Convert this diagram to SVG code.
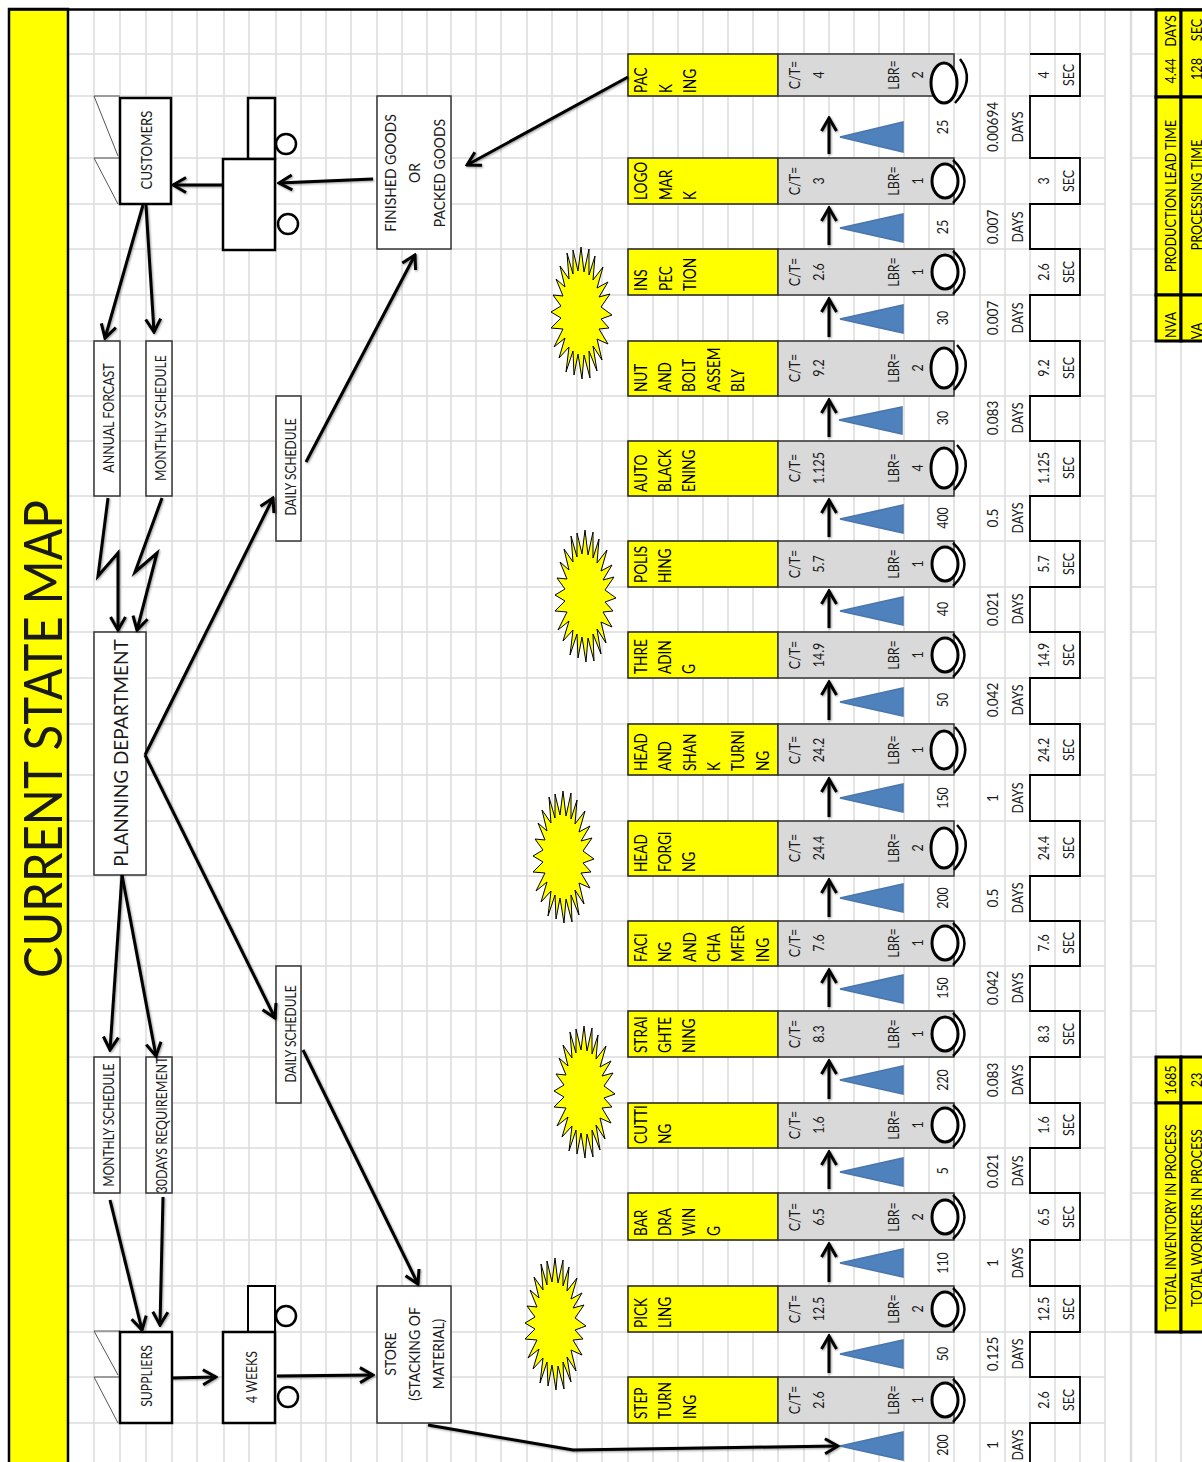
<svg xmlns="http://www.w3.org/2000/svg" width="1202" height="1462" viewBox="0 0 1202 1462">
<style>
text{font-family:Lato,"Liberation Sans",sans-serif;fill:#1a1a1a;dominant-baseline:central;text-anchor:middle}
.s{font-size:15px}.p{font-size:17px;text-anchor:start;fill:#000}.v{font-size:15px}.b{fill:#fff;stroke:#333;stroke-width:1.5}.k{fill:#fff;stroke:#000;stroke-width:2.5}.y{fill:#ff0;stroke:#222;stroke-width:1.5}.g{fill:#d9d9d9;stroke:#333;stroke-width:1.5}.o{fill:#fff;stroke:#000;stroke-width:3}.a{fill:none;stroke:#000;stroke-width:1.8}.f{fill:none;stroke:#555;stroke-width:1}.t{fill:#4f81bd;stroke:#4a76ab;stroke-width:1.5}.w{fill:none;stroke:#000;stroke-width:2.5}.c{fill:none;stroke:#000;stroke-width:3}.m{fill:#ff0;stroke:#000;stroke-width:3}.l{font-size:15.5px;fill:#000}.sun{fill:#ff0;stroke:#000;stroke-width:1}
</style>
<defs>
<marker id="ah" markerUnits="userSpaceOnUse" viewBox="-16 -11 18 22" refX="0" refY="0" markerWidth="18" markerHeight="22" orient="auto"><path d="M-13,-7.500 L0,0 L-13,7.500" fill="none" stroke="#000" stroke-width="3"/></marker>
<filter id="sh" x="-5%" y="-5%" width="110%" height="110%"><feDropShadow dx="1" dy="1" stdDeviation="1" flood-opacity=".4"/></filter>
<polygon id="st" points="31,2 20,6 28,15 18,16 27,31 16,26 21,47 12,33 16,58 8,38 9,65 3,42 1,66 -3,41 -7,62 -8,38 -15,59 -12,34 -22,45 -16,25 -27,34 -18,16 -30,15 -20,5 -30,-1 -20,-7 -28,-18 -18,-17 -25,-34 -16,-26 -21,-47 -12,-34 -14,-60 -8,-39 -8,-63 -3,-42 0,-66 3,-41 8,-64 8,-38 14,-57 12,-33 22,-46 16,-25 27,-31 18,-16 29,-19 20,-6"/>
</defs>
<rect width="1202" height="1462" fill="#fff"/>
<g id="grid" fill="none" stroke="#dcdcdc" stroke-width="1.5">
<path d="M94 10V1462M120 10V1462M146 10V1462M172 10V1462M197 10V1462M224 10V1462M249 10V1462M276 10V1462M301 10V1462M326 10V1462M351 10V1462M377 10V1462M402 10V1462M427 10V1462M451 10V1462M476 10V1462M501 10V1462M527 10V1462M552 10V1462M577 10V1462M602 10V1462M628 10V1462M653 10V1462M678 10V1462M703 10V1462M728 10V1462M753 10V1462M778 10V1462M804 10V1462M829 10V1462M854 10V1462M879 10V1462M904 10V1462M929 10V1462M954 10V1462M980 10V1462M1005 10V1462M1030 10V1462M1055 10V1462M1080 10V1462M1105 10V1462M1131 10V1462M1156 10V1462M1181 10V1462"/>
<path d="M68 54H1105M1131 54H1156M68 96H1105M1131 96H1156M68 158H1105M1131 158H1156M68 204H1105M1131 204H1156M68 249H1105M1131 249H1156M68 295H1105M1131 295H1156M68 341H1105M1131 341H1156M68 396H1105M1131 396H1156M68 441H1105M1131 441H1156M68 496H1105M1131 496H1156M68 541H1105M1131 541H1156M68 587H1105M1131 587H1156M68 632H1105M1131 632H1156M68 678H1105M1131 678H1156M68 724H1105M1131 724H1156M68 775H1105M1131 775H1156M68 821H1105M1131 821H1156M68 876H1105M1131 876H1156M68 921H1105M1131 921H1156M68 966H1105M1131 966H1156M68 1011H1105M1131 1011H1156M68 1057H1105M1131 1057H1156M68 1103H1105M1131 1103H1156M68 1148H1105M1131 1148H1156M68 1193H1105M1131 1193H1156M68 1240H1156M68 1286H1156M68 1332H1156M68 1377H1105M68 1423H1105"/>
<path d="M1131 10V1462" stroke-width="2.5"/>
</g>
<g id="title">
<rect x="9" y="9" width="59" height="1460" fill="#ff0" stroke="#000" stroke-width="2.5"/>
<path d="M9 9.500H1202" stroke="#000" stroke-width="2.5"/>
<text transform="translate(41,739) rotate(-90)" font-size="53" textLength="478" lengthAdjust="spacingAndGlyphs" fill="#000">CURRENT STATE MAP</text>
</g>
<g id="customers"><path class="f" d="M120 96H94L118 156M120 158H94L118 204"/><rect class="k" x="120" y="98" width="51" height="106"/><text class="s" transform="translate(146,150) rotate(-90) scale(.88,1)">CUSTOMERS</text></g>
<g id="truck-out"><rect class="k" x="248" y="98" width="27" height="61"/><rect class="k" x="223" y="159" width="52" height="91"/><circle class="k" cx="286" cy="144" r="10"/><circle class="k" cx="288" cy="224" r="10"/></g>
<g id="finished-goods"><rect class="b" x="377" y="96" width="74" height="153"/><text class="s" transform="translate(390,173) rotate(-90) scale(.93,1)">FINISHED GOODS</text><text class="s" transform="translate(414,173) rotate(-90) scale(.93,1)">OR</text><text class="s" transform="translate(439,173) rotate(-90) scale(.93,1)">PACKED GOODS</text></g>
<g id="annual-forcast"><rect class="b" x="94" y="341" width="26" height="155"/><text class="s" transform="translate(108,418) rotate(-90) scale(.83,1)">ANNUAL FORCAST</text></g>
<g id="monthly-schedule-top"><rect class="b" x="146" y="341" width="26" height="155"/><text class="s" transform="translate(160,418) rotate(-90) scale(.82,1)">MONTHLY SCHEDULE</text></g>
<g id="planning"><rect class="b" x="94" y="632" width="52" height="243"/><text transform="translate(120,753) rotate(-90)" font-size="19">PLANNING DEPARTMENT</text></g>
<g id="daily-top"><rect class="b" x="276" y="396" width="25" height="145"/><text class="s" transform="translate(290,467) rotate(-90) scale(.8,1)">DAILY SCHEDULE</text></g>
<g id="daily-bottom"><rect class="b" x="276" y="966" width="25" height="137"/><text class="s" transform="translate(290,1034) rotate(-90) scale(.8,1)">DAILY SCHEDULE</text></g>
<g id="monthly-schedule-bottom"><rect class="b" x="94" y="1057" width="26" height="136"/><text class="s" transform="translate(108,1125) rotate(-90) scale(.8,1)">MONTHLY SCHEDULE</text></g>
<g id="days-requirement"><rect class="b" x="146" y="1057" width="26" height="136"/><text class="s" transform="translate(161,1125) rotate(-90)" textLength="137" lengthAdjust="spacingAndGlyphs">30DAYS REQUIREMENT</text></g>
<g id="suppliers"><path class="f" d="M120 1331H94L118 1375M120 1377H94L118 1423"/><rect class="k" x="120" y="1332" width="52" height="91"/><text class="s" transform="translate(146,1376) rotate(-90) scale(.82,1)">SUPPLIERS</text></g>
<g id="truck-in"><rect class="k" style="stroke-width:2" x="248" y="1286" width="27" height="46"/><rect class="k" x="223" y="1332" width="52" height="91"/><circle class="k" cx="286" cy="1316" r="10"/><circle class="k" cx="288" cy="1397" r="10"/><text class="s" transform="translate(251,1377) rotate(-90) scale(.82,1)">4 WEEKS</text></g>
<g id="store"><rect class="b" x="377" y="1286" width="74" height="137"/><text class="s" transform="translate(390,1354) rotate(-90) scale(.93,1)">STORE</text><text class="s" transform="translate(414,1354) rotate(-90) scale(.93,1)">(STACKING OF</text><text class="s" transform="translate(438,1354) rotate(-90) scale(.93,1)">MATERIAL)</text></g>
<g id="bursts" class="sun"><use href="#st" x="581" y="313"/><use href="#st" x="585" y="596"/><use href="#st" x="563" y="857"/><use href="#st" x="584" y="1092"/><use href="#st" x="555" y="1324"/></g>
<g id="timeline"><path class="a" d="M1030 54H1080V96H1030V158H1080V204H1030V249H1080V295H1030V341H1080V396H1030V441H1080V496H1030V541H1080V587H1030V632H1080V678H1030V724H1080V775H1030V821H1080V876H1030V921H1080V966H1030V1011H1080V1057H1030V1103H1080V1148H1030V1193H1080V1240H1030V1286H1080V1332H1030V1377H1080V1423H1030V1462"/></g>

<g id="p-pack"><rect class="y" x="628" y="54" width="150" height="42"/><rect class="g" x="778" y="54" width="176" height="42"/><text class="p" transform="translate(640,93) rotate(-90) scale(.8,1)">PAC</text><text class="p" transform="translate(665,93) rotate(-90) scale(.8,1)">K</text><text class="p" transform="translate(689,93) rotate(-90) scale(.8,1)">ING</text><text class="v" transform="translate(794,75) rotate(-90) scale(.83,1)">C/T=</text><text class="v" transform="translate(818,75) rotate(-90) scale(.83,1)">4</text><text class="v" transform="translate(893,75) rotate(-90) scale(.83,1)">LBR=</text><text class="v" transform="translate(917,75) rotate(-90) scale(.83,1)">2</text><ellipse class="o" cx="944" cy="83" rx="13" ry="20"/><path class="w" d="M960 59Q976 80 955 103"/><text class="v" transform="translate(1043,75) rotate(-90) scale(.83,1)">4</text><text class="v" transform="translate(1068,75) rotate(-90) scale(.83,1)">SEC</text></g>
<g id="p-logo"><rect class="y" x="628" y="158" width="150" height="46"/><rect class="g" x="778" y="158" width="176" height="46"/><text class="p" transform="translate(640,200) rotate(-90) scale(.8,1)">LOGO</text><text class="p" transform="translate(665,200) rotate(-90) scale(.8,1)">MAR</text><text class="p" transform="translate(689,200) rotate(-90) scale(.8,1)">K</text><text class="v" transform="translate(794,181) rotate(-90) scale(.83,1)">C/T=</text><text class="v" transform="translate(818,181) rotate(-90) scale(.83,1)">3</text><text class="v" transform="translate(893,181) rotate(-90) scale(.83,1)">LBR=</text><text class="v" transform="translate(917,181) rotate(-90) scale(.83,1)">1</text><ellipse class="o" cx="945" cy="181" rx="13" ry="17"/><path class="w" d="M953 160Q976 181 953 203"/><text class="v" transform="translate(1043,181) rotate(-90) scale(.83,1)">3</text><text class="v" transform="translate(1068,181) rotate(-90) scale(.83,1)">SEC</text></g>
<g id="p-inspection"><rect class="y" x="628" y="249" width="150" height="46"/><rect class="g" x="778" y="249" width="176" height="46"/><text class="p" transform="translate(640,291) rotate(-90) scale(.8,1)">INS</text><text class="p" transform="translate(665,291) rotate(-90) scale(.8,1)">PEC</text><text class="p" transform="translate(689,291) rotate(-90) scale(.8,1)">TION</text><text class="v" transform="translate(794,272) rotate(-90) scale(.83,1)">C/T=</text><text class="v" transform="translate(818,272) rotate(-90) scale(.83,1)">2.6</text><text class="v" transform="translate(893,272) rotate(-90) scale(.83,1)">LBR=</text><text class="v" transform="translate(917,272) rotate(-90) scale(.83,1)">1</text><ellipse class="o" cx="945" cy="272" rx="13" ry="17"/><path class="w" d="M953 251Q976 272 953 294"/><text class="v" transform="translate(1043,272) rotate(-90) scale(.83,1)">2.6</text><text class="v" transform="translate(1068,272) rotate(-90) scale(.83,1)">SEC</text></g>
<g id="p-nut"><rect class="y" x="628" y="341" width="150" height="55"/><rect class="g" x="778" y="341" width="176" height="55"/><text class="p" transform="translate(640,392) rotate(-90) scale(.8,1)">NUT</text><text class="p" transform="translate(664,392) rotate(-90) scale(.8,1)">AND</text><text class="p" transform="translate(688,392) rotate(-90) scale(.8,1)">BOLT</text><text class="p" transform="translate(713,392) rotate(-90) scale(.8,1)">ASSEM</text><text class="p" transform="translate(737,392) rotate(-90) scale(.8,1)">BLY</text><text class="v" transform="translate(794,368) rotate(-90) scale(.83,1)">C/T=</text><text class="v" transform="translate(818,368) rotate(-90) scale(.83,1)">9.2</text><text class="v" transform="translate(893,368) rotate(-90) scale(.83,1)">LBR=</text><text class="v" transform="translate(917,368) rotate(-90) scale(.83,1)">2</text><ellipse class="o" cx="944" cy="368" rx="13" ry="20"/><path class="w" d="M957 345Q976 365 954 390"/><text class="v" transform="translate(1043,368) rotate(-90) scale(.83,1)">9.2</text><text class="v" transform="translate(1068,368) rotate(-90) scale(.83,1)">SEC</text></g>
<g id="p-auto"><rect class="y" x="628" y="441" width="150" height="55"/><rect class="g" x="778" y="441" width="176" height="55"/><text class="p" transform="translate(640,492) rotate(-90) scale(.8,1)">AUTO</text><text class="p" transform="translate(664,492) rotate(-90) scale(.8,1)">BLACK</text><text class="p" transform="translate(688,492) rotate(-90) scale(.8,1)">ENING</text><text class="v" transform="translate(794,468) rotate(-90) scale(.83,1)">C/T=</text><text class="v" transform="translate(818,468) rotate(-90) scale(.83,1)">1.125</text><text class="v" transform="translate(893,468) rotate(-90) scale(.83,1)">LBR=</text><text class="v" transform="translate(917,468) rotate(-90) scale(.83,1)">4</text><ellipse class="o" cx="944" cy="468" rx="13" ry="20"/><path class="w" d="M957 445Q976 465 954 490"/><text class="v" transform="translate(1043,468) rotate(-90) scale(.83,1)">1.125</text><text class="v" transform="translate(1068,468) rotate(-90) scale(.83,1)">SEC</text></g>
<g id="p-polishing"><rect class="y" x="628" y="541" width="150" height="46"/><rect class="g" x="778" y="541" width="176" height="46"/><text class="p" transform="translate(640,583) rotate(-90) scale(.8,1)">POLIS</text><text class="p" transform="translate(664,583) rotate(-90) scale(.8,1)">HING</text><text class="v" transform="translate(794,564) rotate(-90) scale(.83,1)">C/T=</text><text class="v" transform="translate(818,564) rotate(-90) scale(.83,1)">5.7</text><text class="v" transform="translate(893,564) rotate(-90) scale(.83,1)">LBR=</text><text class="v" transform="translate(917,564) rotate(-90) scale(.83,1)">1</text><ellipse class="o" cx="945" cy="564" rx="13" ry="17"/><path class="w" d="M953 543Q976 564 953 586"/><text class="v" transform="translate(1043,564) rotate(-90) scale(.83,1)">5.7</text><text class="v" transform="translate(1068,564) rotate(-90) scale(.83,1)">SEC</text></g>
<g id="p-threading"><rect class="y" x="628" y="632" width="150" height="46"/><rect class="g" x="778" y="632" width="176" height="46"/><text class="p" transform="translate(640,674) rotate(-90) scale(.8,1)">THRE</text><text class="p" transform="translate(664,674) rotate(-90) scale(.8,1)">ADIN</text><text class="p" transform="translate(688,674) rotate(-90) scale(.8,1)">G</text><text class="v" transform="translate(794,655) rotate(-90) scale(.83,1)">C/T=</text><text class="v" transform="translate(818,655) rotate(-90) scale(.83,1)">14.9</text><text class="v" transform="translate(893,655) rotate(-90) scale(.83,1)">LBR=</text><text class="v" transform="translate(917,655) rotate(-90) scale(.83,1)">1</text><ellipse class="o" cx="945" cy="655" rx="13" ry="17"/><path class="w" d="M953 634Q976 655 953 677"/><text class="v" transform="translate(1043,655) rotate(-90) scale(.83,1)">14.9</text><text class="v" transform="translate(1068,655) rotate(-90) scale(.83,1)">SEC</text></g>
<g id="p-head-shank"><rect class="y" x="628" y="724" width="150" height="51"/><rect class="g" x="778" y="724" width="176" height="51"/><text class="p" transform="translate(640,771) rotate(-90) scale(.8,1)">HEAD</text><text class="p" transform="translate(664,771) rotate(-90) scale(.8,1)">AND</text><text class="p" transform="translate(689,771) rotate(-90) scale(.8,1)">SHAN</text><text class="p" transform="translate(713,771) rotate(-90) scale(.8,1)">K</text><text class="p" transform="translate(737,771) rotate(-90) scale(.8,1)">TURNI</text><text class="p" transform="translate(762,771) rotate(-90) scale(.8,1)">NG</text><text class="v" transform="translate(794,750) rotate(-90) scale(.83,1)">C/T=</text><text class="v" transform="translate(818,750) rotate(-90) scale(.83,1)">24.2</text><text class="v" transform="translate(893,750) rotate(-90) scale(.83,1)">LBR=</text><text class="v" transform="translate(917,750) rotate(-90) scale(.83,1)">1</text><ellipse class="o" cx="944" cy="750" rx="13" ry="19"/><path class="w" d="M955 727Q976 750 954 773"/><text class="v" transform="translate(1043,750) rotate(-90) scale(.83,1)">24.2</text><text class="v" transform="translate(1068,750) rotate(-90) scale(.83,1)">SEC</text></g>
<g id="p-head-forging"><rect class="y" x="628" y="821" width="150" height="55"/><rect class="g" x="778" y="821" width="176" height="55"/><text class="p" transform="translate(640,872) rotate(-90) scale(.8,1)">HEAD</text><text class="p" transform="translate(664,872) rotate(-90) scale(.8,1)">FORGI</text><text class="p" transform="translate(688,872) rotate(-90) scale(.8,1)">NG</text><text class="v" transform="translate(794,848) rotate(-90) scale(.83,1)">C/T=</text><text class="v" transform="translate(818,848) rotate(-90) scale(.83,1)">24.4</text><text class="v" transform="translate(893,848) rotate(-90) scale(.83,1)">LBR=</text><text class="v" transform="translate(917,848) rotate(-90) scale(.83,1)">2</text><ellipse class="o" cx="944" cy="848" rx="13" ry="20"/><path class="w" d="M957 825Q976 845 954 870"/><text class="v" transform="translate(1043,848) rotate(-90) scale(.83,1)">24.4</text><text class="v" transform="translate(1068,848) rotate(-90) scale(.83,1)">SEC</text></g>
<g id="p-facing"><rect class="y" x="628" y="921" width="150" height="45"/><rect class="g" x="778" y="921" width="176" height="45"/><text class="p" transform="translate(640,962) rotate(-90) scale(.8,1)">FACI</text><text class="p" transform="translate(664,962) rotate(-90) scale(.8,1)">NG</text><text class="p" transform="translate(689,962) rotate(-90) scale(.8,1)">AND</text><text class="p" transform="translate(713,962) rotate(-90) scale(.8,1)">CHA</text><text class="p" transform="translate(737,962) rotate(-90) scale(.8,1)">MFER</text><text class="p" transform="translate(762,962) rotate(-90) scale(.8,1)">ING</text><text class="v" transform="translate(794,943) rotate(-90) scale(.83,1)">C/T=</text><text class="v" transform="translate(818,943) rotate(-90) scale(.83,1)">7.6</text><text class="v" transform="translate(893,943) rotate(-90) scale(.83,1)">LBR=</text><text class="v" transform="translate(917,943) rotate(-90) scale(.83,1)">1</text><ellipse class="o" cx="945" cy="943" rx="13" ry="17"/><path class="w" d="M953 923Q976 943 953 965"/><text class="v" transform="translate(1043,943) rotate(-90) scale(.83,1)">7.6</text><text class="v" transform="translate(1068,943) rotate(-90) scale(.83,1)">SEC</text></g>
<g id="p-straightening"><rect class="y" x="628" y="1011" width="150" height="46"/><rect class="g" x="778" y="1011" width="176" height="46"/><text class="p" transform="translate(640,1053) rotate(-90) scale(.8,1)">STRAI</text><text class="p" transform="translate(664,1053) rotate(-90) scale(.8,1)">GHTE</text><text class="p" transform="translate(688,1053) rotate(-90) scale(.8,1)">NING</text><text class="v" transform="translate(794,1034) rotate(-90) scale(.83,1)">C/T=</text><text class="v" transform="translate(818,1034) rotate(-90) scale(.83,1)">8.3</text><text class="v" transform="translate(893,1034) rotate(-90) scale(.83,1)">LBR=</text><text class="v" transform="translate(917,1034) rotate(-90) scale(.83,1)">1</text><ellipse class="o" cx="945" cy="1034" rx="13" ry="17"/><path class="w" d="M953 1013Q976 1034 953 1056"/><text class="v" transform="translate(1043,1034) rotate(-90) scale(.83,1)">8.3</text><text class="v" transform="translate(1068,1034) rotate(-90) scale(.83,1)">SEC</text></g>
<g id="p-cutting"><rect class="y" x="628" y="1103" width="150" height="45"/><rect class="g" x="778" y="1103" width="176" height="45"/><text class="p" transform="translate(640,1144) rotate(-90) scale(.8,1)">CUTTI</text><text class="p" transform="translate(664,1144) rotate(-90) scale(.8,1)">NG</text><text class="v" transform="translate(794,1125) rotate(-90) scale(.83,1)">C/T=</text><text class="v" transform="translate(818,1125) rotate(-90) scale(.83,1)">1.6</text><text class="v" transform="translate(893,1125) rotate(-90) scale(.83,1)">LBR=</text><text class="v" transform="translate(917,1125) rotate(-90) scale(.83,1)">1</text><ellipse class="o" cx="945" cy="1125" rx="13" ry="17"/><path class="w" d="M953 1105Q976 1125 953 1147"/><text class="v" transform="translate(1043,1125) rotate(-90) scale(.83,1)">1.6</text><text class="v" transform="translate(1068,1125) rotate(-90) scale(.83,1)">SEC</text></g>
<g id="p-bar-drawing"><rect class="y" x="628" y="1193" width="150" height="47"/><rect class="g" x="778" y="1193" width="176" height="47"/><text class="p" transform="translate(640,1236) rotate(-90) scale(.8,1)">BAR</text><text class="p" transform="translate(664,1236) rotate(-90) scale(.8,1)">DRA</text><text class="p" transform="translate(688,1236) rotate(-90) scale(.8,1)">WIN</text><text class="p" transform="translate(713,1236) rotate(-90) scale(.8,1)">G</text><text class="v" transform="translate(794,1217) rotate(-90) scale(.83,1)">C/T=</text><text class="v" transform="translate(818,1217) rotate(-90) scale(.83,1)">6.5</text><text class="v" transform="translate(893,1217) rotate(-90) scale(.83,1)">LBR=</text><text class="v" transform="translate(917,1217) rotate(-90) scale(.83,1)">2</text><ellipse class="o" cx="945" cy="1217" rx="13" ry="17"/><path class="w" d="M953 1195Q976 1217 953 1239"/><text class="v" transform="translate(1043,1217) rotate(-90) scale(.83,1)">6.5</text><text class="v" transform="translate(1068,1217) rotate(-90) scale(.83,1)">SEC</text></g>
<g id="p-pickling"><rect class="y" x="628" y="1286" width="150" height="46"/><rect class="g" x="778" y="1286" width="176" height="46"/><text class="p" transform="translate(640,1328) rotate(-90) scale(.8,1)">PICK</text><text class="p" transform="translate(664,1328) rotate(-90) scale(.8,1)">LING</text><text class="v" transform="translate(794,1309) rotate(-90) scale(.83,1)">C/T=</text><text class="v" transform="translate(818,1309) rotate(-90) scale(.83,1)">12.5</text><text class="v" transform="translate(893,1309) rotate(-90) scale(.83,1)">LBR=</text><text class="v" transform="translate(917,1309) rotate(-90) scale(.83,1)">2</text><ellipse class="o" cx="945" cy="1309" rx="13" ry="17"/><path class="w" d="M953 1288Q976 1309 953 1331"/><text class="v" transform="translate(1043,1309) rotate(-90) scale(.83,1)">12.5</text><text class="v" transform="translate(1068,1309) rotate(-90) scale(.83,1)">SEC</text></g>
<g id="p-step-turning"><rect class="y" x="628" y="1377" width="150" height="46"/><rect class="g" x="778" y="1377" width="176" height="46"/><text class="p" transform="translate(640,1419) rotate(-90) scale(.8,1)">STEP</text><text class="p" transform="translate(664,1419) rotate(-90) scale(.8,1)">TURN</text><text class="p" transform="translate(689,1419) rotate(-90) scale(.8,1)">ING</text><text class="v" transform="translate(794,1400) rotate(-90) scale(.83,1)">C/T=</text><text class="v" transform="translate(818,1400) rotate(-90) scale(.83,1)">2.6</text><text class="v" transform="translate(893,1400) rotate(-90) scale(.83,1)">LBR=</text><text class="v" transform="translate(917,1400) rotate(-90) scale(.83,1)">1</text><ellipse class="o" cx="945" cy="1400" rx="13" ry="17"/><path class="w" d="M953 1379Q976 1400 953 1422"/><text class="v" transform="translate(1043,1400) rotate(-90) scale(.83,1)">2.6</text><text class="v" transform="translate(1068,1400) rotate(-90) scale(.83,1)">SEC</text></g>

<g id="inventory">
<polygon class="t" points="840,137 903,122 903,152"/><text class="v" transform="translate(942,127) rotate(-90) scale(.83,1)">25</text><text class="v" transform="translate(992,127) rotate(-90) scale(.9,1)">0.00694</text><text class="v" transform="translate(1017,127) rotate(-90) scale(.83,1)">DAYS</text>
<polygon class="t" points="840,228 903,214 903,242"/><text class="v" transform="translate(942,227) rotate(-90) scale(.83,1)">25</text><text class="v" transform="translate(992,227) rotate(-90) scale(.9,1)">0.007</text><text class="v" transform="translate(1017,227) rotate(-90) scale(.83,1)">DAYS</text>
<polygon class="t" points="840,319 903,305 903,333"/><text class="v" transform="translate(942,318) rotate(-90) scale(.83,1)">30</text><text class="v" transform="translate(992,318) rotate(-90) scale(.9,1)">0.007</text><text class="v" transform="translate(1017,318) rotate(-90) scale(.83,1)">DAYS</text>
<polygon class="t" points="839,420 902,407 902,434"/><text class="v" transform="translate(942,418) rotate(-90) scale(.83,1)">30</text><text class="v" transform="translate(992,418) rotate(-90) scale(.9,1)">0.083</text><text class="v" transform="translate(1017,418) rotate(-90) scale(.83,1)">DAYS</text>
<polygon class="t" points="840,519 903,505 903,533"/><text class="v" transform="translate(942,518) rotate(-90) scale(.83,1)">400</text><text class="v" transform="translate(992,518) rotate(-90) scale(.9,1)">0.5</text><text class="v" transform="translate(1017,518) rotate(-90) scale(.83,1)">DAYS</text>
<polygon class="t" points="840,611 903,597 903,625"/><text class="v" transform="translate(942,609) rotate(-90) scale(.83,1)">40</text><text class="v" transform="translate(992,609) rotate(-90) scale(.9,1)">0.021</text><text class="v" transform="translate(1017,609) rotate(-90) scale(.83,1)">DAYS</text>
<polygon class="t" points="840,702 903,688 903,716"/><text class="v" transform="translate(942,700) rotate(-90) scale(.83,1)">50</text><text class="v" transform="translate(992,700) rotate(-90) scale(.9,1)">0.042</text><text class="v" transform="translate(1017,700) rotate(-90) scale(.83,1)">DAYS</text>
<polygon class="t" points="840,798 903,784 903,812"/><text class="v" transform="translate(942,798) rotate(-90) scale(.83,1)">150</text><text class="v" transform="translate(992,798) rotate(-90) scale(.9,1)">1</text><text class="v" transform="translate(1017,798) rotate(-90) scale(.83,1)">DAYS</text>
<polygon class="t" points="840,898 903,884 903,912"/><text class="v" transform="translate(942,898) rotate(-90) scale(.83,1)">200</text><text class="v" transform="translate(992,898) rotate(-90) scale(.9,1)">0.5</text><text class="v" transform="translate(1017,898) rotate(-90) scale(.83,1)">DAYS</text>
<polygon class="t" points="840,989 903,975 903,1003"/><text class="v" transform="translate(942,988) rotate(-90) scale(.83,1)">150</text><text class="v" transform="translate(992,988) rotate(-90) scale(.9,1)">0.042</text><text class="v" transform="translate(1017,988) rotate(-90) scale(.83,1)">DAYS</text>
<polygon class="t" points="840,1080 903,1066 903,1094"/><text class="v" transform="translate(942,1080) rotate(-90) scale(.83,1)">220</text><text class="v" transform="translate(992,1080) rotate(-90) scale(.9,1)">0.083</text><text class="v" transform="translate(1017,1080) rotate(-90) scale(.83,1)">DAYS</text>
<polygon class="t" points="840,1172 903,1158 903,1186"/><text class="v" transform="translate(942,1171) rotate(-90) scale(.83,1)">5</text><text class="v" transform="translate(992,1171) rotate(-90) scale(.9,1)">0.021</text><text class="v" transform="translate(1017,1171) rotate(-90) scale(.83,1)">DAYS</text>
<polygon class="t" points="840,1263 903,1249 903,1277"/><text class="v" transform="translate(942,1263) rotate(-90) scale(.83,1)">110</text><text class="v" transform="translate(992,1263) rotate(-90) scale(.9,1)">1</text><text class="v" transform="translate(1017,1263) rotate(-90) scale(.83,1)">DAYS</text>
<polygon class="t" points="840,1354 903,1340 903,1368"/><text class="v" transform="translate(942,1354) rotate(-90) scale(.83,1)">50</text><text class="v" transform="translate(992,1354) rotate(-90) scale(.9,1)">0.125</text><text class="v" transform="translate(1017,1354) rotate(-90) scale(.83,1)">DAYS</text>
<polygon class="t" points="840,1446 903,1432 903,1460"/><text class="v" transform="translate(942,1445) rotate(-90) scale(.83,1)">200</text><text class="v" transform="translate(992,1445) rotate(-90) scale(.9,1)">1</text><text class="v" transform="translate(1017,1445) rotate(-90) scale(.83,1)">DAYS</text>
</g>
<g id="totals-top">
<rect class="m" x="1156" y="10" width="25" height="87"/><rect class="m" x="1156" y="97" width="25" height="198"/><rect class="m" x="1156" y="295" width="25" height="46"/>
<rect class="m" x="1181" y="10" width="25" height="87"/><rect class="m" x="1181" y="97" width="25" height="198"/><rect class="m" x="1181" y="295" width="25" height="46"/>
<text class="l" transform="translate(1170,31) rotate(-90) scale(.82,1)">DAYS</text><text class="l" transform="translate(1170,71) rotate(-90) scale(.82,1)">4.44</text><text class="l" transform="translate(1170,196) rotate(-90) scale(.82,1)">PRODUCTION LEAD TIME</text><text class="l" transform="translate(1170,325) rotate(-90) scale(.82,1)">NVA</text>
<text class="l" transform="translate(1196,30) rotate(-90) scale(.82,1)">SEC</text><text class="l" transform="translate(1196,69) rotate(-90) scale(.82,1)">128</text><text class="l" transform="translate(1196,195) rotate(-90) scale(.82,1)">PROCESSING TIME</text><text class="l" transform="translate(1196,331) rotate(-90) scale(.82,1)">VA</text>
</g>
<g id="totals-bottom">
<rect class="m" x="1156" y="1057" width="25" height="46"/><rect class="m" x="1156" y="1103" width="25" height="229"/>
<rect class="m" x="1181" y="1057" width="25" height="46"/><rect class="m" x="1181" y="1103" width="25" height="229"/>
<text class="l" transform="translate(1170,1080) rotate(-90) scale(.82,1)">1685</text><text class="l" transform="translate(1170,1218) rotate(-90) scale(.82,1)">TOTAL INVENTORY IN PROCESS</text>
<text class="l" transform="translate(1196,1080) rotate(-90) scale(.82,1)">23</text><text class="l" transform="translate(1196,1218) rotate(-90) scale(.82,1)">TOTAL WORKERS IN PROCESS</text>
</g>
<g id="connectors" class="c" marker-end="url(#ah)" filter="url(#sh)">
<path d="M628 77L467 165"/>
<path d="M373 179L279 183"/>
<path d="M222 185L173 185"/>
<path d="M143 205L105 338"/>
<path d="M146 205L154 332"/>
<path d="M108 498L98 576L118 553L118 630"/>
<path d="M162 498L135 572L157 553L137 630"/>
<path d="M145 755L273 498"/>
<path d="M306 462L415 255"/>
<path d="M145 755L275 1018"/>
<path d="M122 875L110 1050"/>
<path d="M122 875L156 1056"/>
<path d="M110 1200L142 1330"/>
<path d="M163 1197L160 1325"/>
<path d="M303 1050L418 1284"/>
<path d="M172 1378L216 1377"/>
<path d="M277 1376L373 1375"/>
<path d="M428 1425L573 1450L838 1446"/>
<path d="M829 154V118"/><path d="M829 245V208"/><path d="M829 337V299"/><path d="M829 437V400"/><path d="M829 537V500"/><path d="M829 628V591"/><path d="M829 720V682"/><path d="M829 817V779"/><path d="M829 917V880"/><path d="M829 1007V970"/><path d="M829 1099V1061"/><path d="M829 1189V1152"/><path d="M829 1282V1244"/><path d="M829 1373V1336"/>
</g>
</svg>
